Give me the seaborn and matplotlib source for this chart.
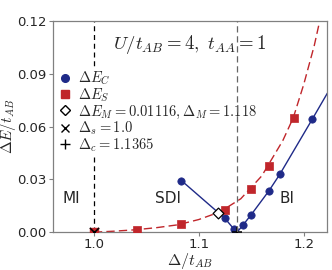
import numpy as np
import pandas as pd
import matplotlib
matplotlib.use('Agg')
import matplotlib.pyplot as plt
import seaborn as sns
from matplotlib.lines import Line2D

################################################################################
# data

delta_s_pts = [1.0413, 1.0835, 1.1248, 1.1500, 1.1667, 1.1905]
energy_s_pts = [0.0014, 0.0045, 0.0127, 0.0247, 0.0374, 0.0651]

delta_c_pts = [1.0835, 1.1248, 1.1333, 1.1423, 1.1500, 1.1667, 1.1771, 1.2083]
energy_c_pts = [0.0293, 0.0079, 0.0019, 0.0042, 0.0100, 0.0234, 0.0328, 0.0644]

# fitted curves
delta_s_fit = [1.0, 1.02, 1.04, 1.06, 1.08, 1.10, 1.12, 1.14, 1.16, 1.18, 1.19, 1.20, 1.21, 1.2152]
energy_s_fit = [0.0, 0.0006, 0.0014, 0.0026, 0.0042, 0.0072, 0.0115, 0.019, 0.032, 0.052, 0.065, 0.084, 0.106, 0.12]

delta_c_line = [1.0835, 1.1248, 1.1333, 1.1365, 1.1423, 1.1500, 1.1667, 1.1771, 1.2083, 1.2225]
energy_c_line = [0.0293, 0.0079, 0.0019, 0.0, 0.0042, 0.0100, 0.0234, 0.0328, 0.0644, 0.0790]

delta_m, energy_m = 1.118, 0.01116
delta_s_crit = 1.0
delta_c_crit = 1.1365

x_ticks = [1.0, 1.1, 1.2]
y_ticks = [0.00, 0.03, 0.06, 0.09, 0.12]

################################################################################

sns.set_style('ticks')
plt.rcParams['font.family'] = ['DejaVu Sans']
plt.rcParams['mathtext.fontset'] = 'cm'

red = '#c0262b'
blue = '#1f2a88'
gray = '#808080'

fig = plt.figure(figsize = (3.32, 2.70), dpi = 100)
ax = fig.add_axes([0.1585, 0.1400, 0.8275, 0.7820])

# vertical guide lines
ax.axvline(delta_s_crit, color = 'k', ls = (0, (4, 3)), lw = 0.9, zorder = 1)
ax.axvline(delta_c_crit, color = '#666666', ls = (0, (5, 3)), lw = 0.9, zorder = 6)

# fits
sns.lineplot(x = delta_s_fit, y = energy_s_fit, color = red, ls = (0, (6, 3)),
             lw = 1.0, sort = False, ax = ax, zorder = 2)
sns.lineplot(x = delta_c_line, y = energy_c_line, color = blue, lw = 1.0,
             sort = False, ax = ax, zorder = 2)

# data
sns.scatterplot(x = delta_c_pts, y = energy_c_pts, color = blue, marker = 'o',
                s = 28, edgecolor = blue, linewidth = 0.5, ax = ax, zorder = 3)
sns.scatterplot(x = delta_s_pts, y = energy_s_pts, color = red, marker = 's',
                s = 28, edgecolor = red, linewidth = 0.5, ax = ax, zorder = 3)
ax.scatter([delta_s_crit], [0.0], color = red, marker = 's', s = 28, zorder = 3)
ax.scatter([delta_m], [energy_m], facecolor = 'white', edgecolor = 'k',
           marker = 'D', s = 30, linewidth = 0.9, zorder = 4)
ax.scatter([delta_s_crit], [0.0], color = 'k', marker = 'x', s = 45, linewidth = 1.1, zorder = 5)
ax.scatter([delta_c_crit], [0.0], color = 'k', marker = '+', s = 60, linewidth = 1.1, zorder = 5)

ax.set_xlim(0.9607, 1.2225)
ax.set_ylim(0.0, 0.12)
ax.set_xticks(x_ticks)
ax.set_xticklabels(['1.0', '1.1', '1.2'])
ax.set_yticks(y_ticks)
ax.set_yticklabels(['0.00', '0.03', '0.06', '0.09', '0.12'])
ax.tick_params(labelsize = 9.5, length = 3, width = 0.8, color = gray, pad = 1.5)
for spine in ax.spines.values():
    spine.set_color(gray)
    spine.set_linewidth(0.9)

ax.set_xlabel(r'$\Delta/t_{AB}$', fontsize = 11.5, labelpad = 0)
ax.set_ylabel(r'$\Delta E/t_{AB}$', fontsize = 11)
ax.yaxis.set_label_coords(-0.127, 0.5)

ax.text(1.091, 0.1065, r'$U/t_{AB}=4,\ t_{AA}=1$', fontsize = 13.5,
        ha = 'center', va = 'center')
ax.text(0.9788, 0.0191, 'MI', fontsize = 11, ha = 'center', va = 'center')
ax.text(1.0707, 0.0191, 'SDI', fontsize = 11, ha = 'center', va = 'center')
ax.text(1.184, 0.0191, 'BI', fontsize = 11, ha = 'center', va = 'center')

handles = [
    Line2D([], [], ls = 'none', marker = 'o', color = blue, markersize = 5.5),
    Line2D([], [], ls = 'none', marker = 's', color = red, markersize = 5.5),
    Line2D([], [], ls = 'none', marker = 'D', markerfacecolor = 'white',
           markeredgecolor = 'k', markersize = 5),
    Line2D([], [], ls = 'none', marker = 'x', color = 'k', markersize = 5.5),
    Line2D([], [], ls = 'none', marker = '+', color = 'k', markersize = 6.5),
]
labels = [
    r'$\Delta E_C$',
    r'$\Delta E_S$',
    r'$\Delta E_M=0.01116, \Delta_M=1.118$',
    r'$\Delta_s=1.0$',
    r'$\Delta_c=1.1365$',
]
leg = ax.legend(handles, labels, loc = 'upper left', bbox_to_anchor = (0.0, 0.80),
                fontsize = 10.5, frameon = True, framealpha = 1.0, edgecolor = 'none',
                fancybox = False, handlelength = 0.8, handletextpad = 0.5,
                labelspacing = -0.05, borderpad = 0.15, borderaxespad = 0.3)

fig.savefig('out.png', dpi = 100)
